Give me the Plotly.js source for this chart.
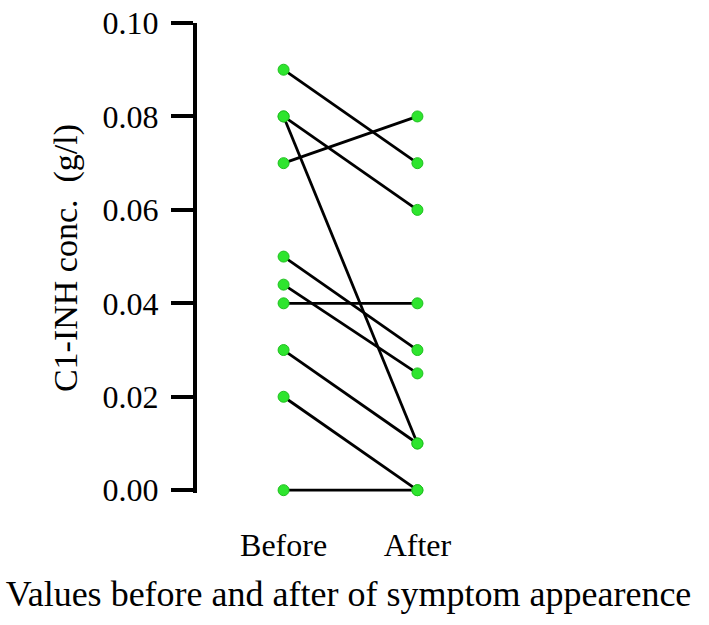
<!DOCTYPE html>
<html>
<head>
<meta charset="utf-8">
<script src="https://cdn.plot.ly/plotly-3.0.1.min.js"></script>
<style>
  html, body { margin: 0; padding: 0; background: #fff; }
  #chart { width: 709px; height: 625px; }
</style>
</head>
<body>
<div id="chart"></div>
<script>
// C1-INH values, one pair per subject
var groups = ['Before', 'After'];
var before = [0.09, 0.08, 0.08, 0.07, 0.05, 0.044, 0.04, 0.03, 0.02, 0.00];
var after  = [0.07, 0.06, 0.01, 0.08, 0.03, 0.025, 0.04, 0.01, 0.00, 0.00];
var yTicks = [0, 0.02, 0.04, 0.06, 0.08, 0.10];

var serif = 'Liberation Serif, Times New Roman, serif';

// connecting lines, pairs split by nulls
var lx = [], ly = [];
for (var i = 0; i < before.length; i++) {
  lx.push(groups[0], groups[1], null);
  ly.push(before[i], after[i], null);
}

// dots
var px = [], py = [];
for (var j = 0; j < before.length; j++) {
  px.push(groups[0]); py.push(before[j]);
  px.push(groups[1]); py.push(after[j]);
}

var lines = {
  x: lx, y: ly,
  type: 'scatter',
  mode: 'lines',
  line: {color: '#000', width: 2.8},
  connectgaps: false,
  hoverinfo: 'skip',
  cliponaxis: false
};

var dots = {
  x: px, y: py,
  type: 'scatter',
  mode: 'markers',
  marker: {color: '#2ee52e', size: 11, line: {color: '#1fbf1f', width: 1}},
  cliponaxis: false
};

var layout = {
  width: 709,
  height: 625,
  margin: {l: 197, r: 209, t: 23, b: 132},
  showlegend: false,
  paper_bgcolor: '#fff',
  plot_bgcolor: '#fff',
  font: {family: serif, color: '#000'},
  xaxis: {
    type: 'category',
    range: [-0.647, 1.617],
    showline: false,
    showgrid: false,
    zeroline: false,
    ticks: '',
    ticklabelstandoff: 30,
    tickfont: {family: serif, size: 32, color: '#000'},
    title: {text: 'Values before and after of symptom appearence', font: {family: serif, size: 36, color: '#000'}, standoff: 18}
  },
  yaxis: {
    range: [-0.0006, 0.1],
    tickvals: yTicks,
    tickformat: '.2f',
    showline: true,
    linecolor: '#000',
    linewidth: 4,
    ticks: 'outside',
    ticklen: 22,
    tickwidth: 4,
    tickcolor: '#000',
    showgrid: false,
    zeroline: false,
    ticklabelstandoff: 6,
    tickfont: {family: serif, size: 32, color: '#000'},
    title: {text: 'C1-INH conc.  (g/l)', font: {family: serif, size: 34, color: '#000'}, standoff: 16}
  }
};

Plotly.newPlot('chart', [lines, dots], layout, {displayModeBar: false});
</script>
</body>
</html>
